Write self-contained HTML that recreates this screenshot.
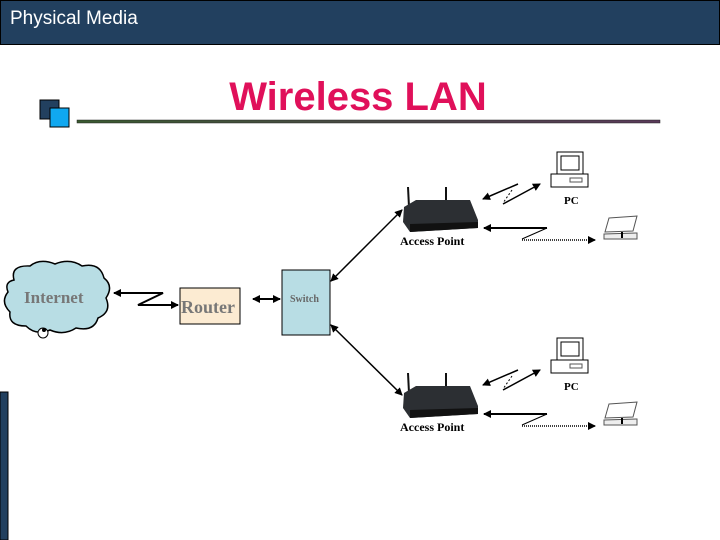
<!DOCTYPE html>
<html><head><style>
body{margin:0;width:720px;height:540px;overflow:hidden;background:#fff;position:relative;font-family:"Liberation Sans",sans-serif}
.hdr{position:absolute;left:0;top:0;width:718px;height:43px;background:#22405f;border:1px solid #000}
.hdr span{position:absolute;left:9px;top:7px;color:#fff;font-size:19px}
.t{position:absolute;left:0;width:720px;top:75px;text-align:center;font-weight:bold;font-size:40px;color:#e0105a}
svg{position:absolute;left:0;top:0}
.s{font-family:"Liberation Serif",serif;font-weight:bold}
</style></head><body>
<div class="hdr"><span>Physical Media</span></div>
<div class="t" style="left:-2px">Wireless LAN</div>
<svg width="720" height="540">
<defs>
<linearGradient id="g" x1="0" x2="1"><stop offset="0" stop-color="#3a5a30"/><stop offset="1" stop-color="#5a3a5a"/></linearGradient>
<marker id="a" markerWidth="8" markerHeight="8" refX="7" refY="4" orient="auto-start-reverse" markerUnits="userSpaceOnUse"><path d="M0,0L8,4L0,8z" fill="#000"/></marker>
</defs>
<rect x="40" y="100" width="19" height="19" fill="#22405f" stroke="#000"/>
<rect x="50" y="108" width="19" height="19" fill="#10a8f0" stroke="#000"/>
<rect x="77" y="120" width="583" height="3" fill="url(#g)" stroke="#222" stroke-width="0.5"/>
<rect x="0" y="392" width="8" height="148" fill="#22405f" stroke="#000"/>
<path d="M14,280 Q10,265 30,266 Q40,258 55,264 Q70,258 82,266 Q100,262 104,278 Q114,286 106,298 Q112,312 98,318 Q94,332 76,328 Q64,336 50,330 Q36,336 26,326 Q8,326 10,312 Q0,302 8,292 Q4,282 14,280Z" fill="#b8dde4" stroke="#000" stroke-width="1.5"/>
<circle cx="43" cy="333" r="5" fill="#fff" stroke="#000"/><circle cx="44" cy="330" r="2" fill="#000"/>
<text x="24" y="303" class="s" font-size="17" fill="#777">Internet</text>
<polyline points="114,293 163,293 138,305 178,305" fill="none" stroke="#000" stroke-width="2" marker-start="url(#a)" marker-end="url(#a)"/>
<rect x="180" y="288" width="60" height="36" fill="#fcebd2" stroke="#000"/>
<text x="181" y="313" class="s" font-size="18" fill="#777">Router</text>
<line x1="253" y1="299" x2="280" y2="299" stroke="#000" stroke-width="2" marker-start="url(#a)" marker-end="url(#a)"/>
<rect x="282" y="270" width="48" height="65" fill="#b8dde4" stroke="#000"/>
<text x="290" y="302" class="s" font-size="10" fill="#666">Switch</text>
<line x1="331" y1="281" x2="402" y2="210" stroke="#000" stroke-width="1.5" marker-start="url(#a)" marker-end="url(#a)"/>
<line x1="331" y1="325" x2="402" y2="395" stroke="#000" stroke-width="1.5" marker-start="url(#a)" marker-end="url(#a)"/>
<g id="ap">
<line x1="408" y1="187" x2="409" y2="207" stroke="#111" stroke-width="2"/>
<line x1="446" y1="187" x2="446" y2="203" stroke="#111" stroke-width="2"/>
<path d="M404,207 L416,200 L470,200 L478,220 L478,228 L410,232 L403,222Z" fill="#2c2f33"/>
<path d="M410,224 L478,222 L478,228 L410,232Z" fill="#111"/>
<text x="400" y="245" class="s" font-size="12">Access Point</text>
<polyline points="518,184 483,199" fill="none" stroke="#000" stroke-width="1.5" marker-end="url(#a)"/>
<line x1="512" y1="190" x2="503" y2="203" stroke="#000" stroke-dasharray="2,2"/>
<line x1="503" y1="204" x2="540" y2="184" stroke="#000" stroke-width="1.5" marker-end="url(#a)"/>
<polyline points="547,228 484,228" fill="none" stroke="#000" stroke-width="2" marker-end="url(#a)"/>
<line x1="547" y1="228" x2="522" y2="239" stroke="#000"/>
<line x1="522" y1="240" x2="595" y2="240" stroke="#000" stroke-width="1.5" stroke-dasharray="1,1" marker-end="url(#a)"/>
<rect x="557" y="152" width="26" height="22" fill="#fff" stroke="#000"/>
<rect x="561" y="156" width="18" height="14" fill="#fff" stroke="#000"/>
<rect x="551" y="174" width="37" height="13" fill="#fff" stroke="#000"/>
<rect x="570" y="178" width="12" height="4" fill="none" stroke="#555"/>
<text x="564" y="204" class="s" font-size="11">PC</text>
<path d="M609,218 L637,216 L633,231 L605,232Z" fill="#fff" stroke="#555"/>
<path d="M604,234 L637,233 L637,239 L604,239Z" fill="#eee" stroke="#555"/>
<line x1="622" y1="232" x2="622" y2="238" stroke="#000" stroke-width="2"/>
</g>
<use href="#ap" y="186"/>
</svg>
</body></html>
